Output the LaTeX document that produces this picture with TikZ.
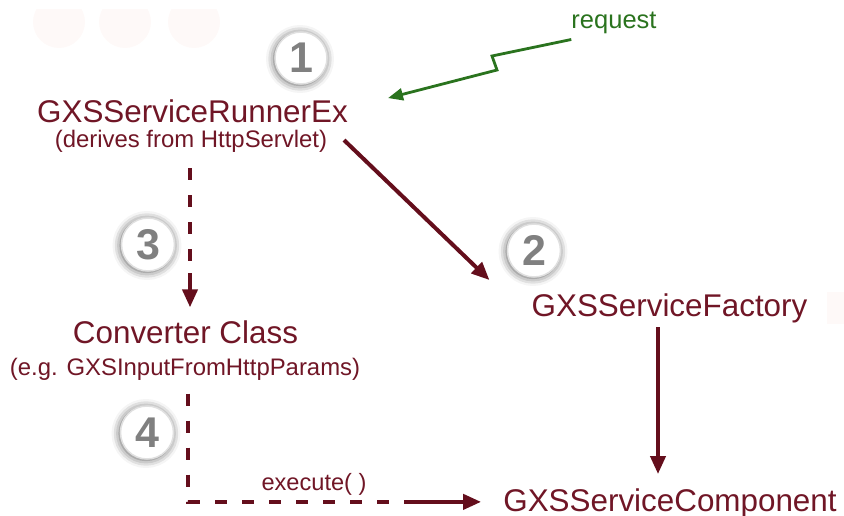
\documentclass[tikz,border=0pt]{standalone}
\usepackage{fontspec}
\setmainfont{Liberation Sans}
\usetikzlibrary{arrows.meta,shadows.blur}
\definecolor{maroon}{RGB}{112,22,38}
\definecolor{lnred}{RGB}{100,14,28}
\definecolor{grn}{RGB}{42,115,30}
\definecolor{digit}{RGB}{128,128,128}
\definecolor{blob}{RGB}{254,249,248}
\tikzset{
  mainlbl/.style={anchor=base, inner sep=0pt, text=maroon, font=\fontsize{31.4}{36}\selectfont},
  sublbl/.style={anchor=base, inner sep=0pt, text=maroon, font=\fontsize{23.9}{28}\selectfont},
  execlbl/.style={anchor=base, inner sep=0pt, text=maroon, font=\fontsize{23.6}{28}\selectfont},
  reqlbl/.style={anchor=base, inner sep=0pt, text=grn, font=\fontsize{25.5}{30}\selectfont},
  numc/.style={circle, inner sep=0pt, minimum size=53pt, fill=white, draw=black!12, line width=1.5pt,
    text=digit, font=\fontsize{43}{48}\selectfont\bfseries,
    blur shadow={shadow xshift=-1pt, shadow yshift=-1pt, shadow blur radius=8pt, shadow opacity=65}},
  dashln/.style={draw=lnred, line width=4pt, dash pattern=on 12pt off 15pt},
  solidln/.style={draw=lnred, line width=4pt},
  redtip/.style={-{Triangle[length=18pt,width=15pt]}},
  grnln/.style={draw=grn, line width=2.8pt, line join=miter, -{Triangle[length=15pt,width=12pt]}}
}
\begin{document}
\begin{tikzpicture}[x=1pt,y=-1pt]
\useasboundingbox (0,0) rectangle (844,516);
% faint background blobs
\begin{scope}
  \clip (0,10) rectangle (300,60);
  \fill[blob] (59,22) circle (26);
  \fill[blob] (125,22) circle (26);
  \fill[blob] (194,22) circle (26);
\end{scope}
\fill[blob] (827,292) rectangle (844,324);

% labels
\node[mainlbl] (runner) at (192.5,122.3) {GXSServiceRunnerEx};
\node[sublbl] (runnersub) at (191,148) {(derives from HttpServlet)};
\node[mainlbl] (conv) at (185.5,343.3) {Converter Class};
\node[sublbl] (convsub) at (185,375.5) {(e.g. GXSInputFromHttpParams)};
\node[mainlbl] (factory) at (669.5,316.5) {GXSServiceFactory};
\node[mainlbl] (comp) at (670,511) {GXSServiceComponent};
\node[execlbl] (exec) at (314,490) {execute( )};
\node[reqlbl] (req) at (614,29) {request};

% numbered circles
\node[numc, minimum size=52pt] (n1) at (301,58) {1};
\node[numc] (n2) at (534,250.5) {2};
\node[numc] (n3) at (148,244.5) {3};
\node[numc] (n4) at (147,432.5) {4};

% request lightning arrow
\draw[grnln] ([yshift=-5pt]req.south west) -- (492,56) -- (497,70) -- ([xshift=40pt,yshift=13pt]runner.east);

% runner -> factory
\draw[solidln, redtip] ([xshift=-4pt,yshift=-29pt]runner.east) -- ([xshift=-42pt,yshift=13.5pt]factory.north west);

% runner -> converter (dashed)
\draw[dashln] ([xshift=-1pt,yshift=-15pt]runnersub.south) -- ([xshift=4.5pt,yshift=47pt]conv.north);
\draw[solidln, redtip] ([xshift=4.5pt,yshift=47pt]conv.north) -- ([xshift=4.5pt,yshift=13pt]conv.north);

% factory -> component
\draw[solidln, redtip] ([xshift=-11.5pt,yshift=-4pt]factory.south) -- ([xshift=-12pt,yshift=14pt]comp.north);

% converter -> component (dashed, execute)
\draw[dashln] ([xshift=3.3pt,yshift=-13pt]convsub.south) |- ([xshift=-90pt,yshift=1pt]comp.west);
\draw[solidln, redtip] ([xshift=-90pt,yshift=1pt]comp.west) -- ([xshift=-22pt,yshift=1pt]comp.west);
\end{tikzpicture}
\end{document}
